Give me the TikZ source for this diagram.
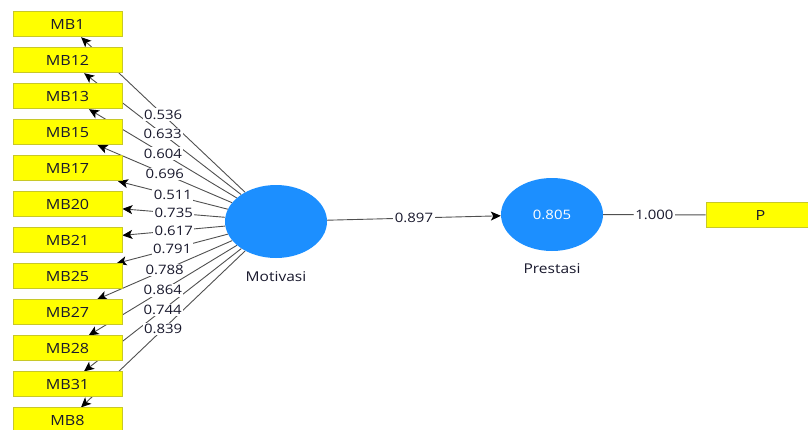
\documentclass[tikz,border=0pt]{standalone}
\usepackage{fontspec}
\setmainfont{Open Sans}[FakeStretch=1.15]
\usetikzlibrary{shapes.geometric,arrows.meta,backgrounds}
\definecolor{lvblue}{RGB}{28,143,255}
\definecolor{indfill}{RGB}{255,255,0}
\definecolor{indborder}{RGB}{200,200,40}
\definecolor{lnk}{RGB}{80,80,80}
\definecolor{txt}{RGB}{25,25,45}
\begin{document}
\begin{tikzpicture}[x=1pt,y=-1pt,
  indbox/.style={draw=indborder, fill=indfill, line width=0.8pt, minimum width=109pt, minimum height=25pt, inner sep=0pt, font=\fontsize{14}{16}\selectfont, text=txt},
  latent/.style={ellipse, fill=lvblue, minimum width=102pt, minimum height=73pt, inner sep=0pt, font=\fontsize{13}{15}\selectfont, text=white},
  link/.style={draw=lnk, line width=0.9pt, -{Stealth[length=10pt,width=9pt,inset=2.5pt,color=black]}},
  plainlink/.style={draw=lnk, line width=0.9pt},
  lbl/.style={fill=white, inner sep=1.5pt, font=\fontsize{13}{15}\selectfont, text=txt},
  captext/.style={font=\fontsize{13.5}{15}\selectfont, text=txt}]
\useasboundingbox (0,0) rectangle (808,429);
\clip (0,0) rectangle (808,429);

% indicators
\node[indbox] (mb1)  at (67.5, 24.3) {MB1};
\node[indbox] (mb12) at (67.5, 60.3) {MB12};
\node[indbox] (mb13) at (67.5, 96.3) {MB13};
\node[indbox] (mb15) at (67.5,132.3) {MB15};
\node[indbox] (mb17) at (67.5,168.3) {MB17};
\node[indbox] (mb20) at (67.5,204.3) {MB20};
\node[indbox] (mb21) at (67.5,240.3) {MB21};
\node[indbox] (mb25) at (67.5,276.3) {MB25};
\node[indbox] (mb27) at (67.5,312.3) {MB27};
\node[indbox] (mb28) at (67.5,348.3) {MB28};
\node[indbox] (mb31) at (67.5,384.3) {MB31};
\node[indbox] (mb8)  at (67.5,420.3) {MB8};
\node[indbox] (p)    at (760.5,215) {P};

% latent variables
\node[latent] (mot) at (276,221.5) {};
\node[latent] (pre) at (552,214.5) {0.805};
\node[captext] (motcap) at (276,277) {Motivasi};
\node[captext] (precap) at (552,269) {Prestasi};

% connectors behind
\begin{pgfonlayer}{background}
  \foreach \t in {mb1,mb12,mb13,mb15,mb17,mb20,mb21,mb25,mb27,mb28,mb31,mb8}
    \draw[link] (mot) -- (\t);
  \draw[link] (mot) -- (pre);
  \draw[plainlink] (pre) -- (p);
\end{pgfonlayer}

% labels
\path (mot) -- node[lbl] {0.536} (mb1);
\path (mot) -- node[lbl] {0.633} (mb12);
\path (mot) -- node[lbl] {0.604} (mb13);
\path (mot) -- node[lbl] {0.696} (mb15);
\path (mot) -- node[lbl] {0.511} (mb17);
\path (mot) -- node[lbl] {0.735} (mb20);
\path (mot) -- node[lbl] {0.617} (mb21);
\path (mot) -- node[lbl] {0.791} (mb25);
\path (mot) -- node[lbl] {0.788} (mb27);
\path (mot) -- node[lbl] {0.864} (mb28);
\path (mot) -- node[lbl] {0.744} (mb31);
\path (mot) -- node[lbl] {0.839} (mb8);
\path (mot) -- node[lbl] {0.897} (pre);
\path (pre) -- node[lbl] {1.000} (p);
\end{tikzpicture}
\end{document}
